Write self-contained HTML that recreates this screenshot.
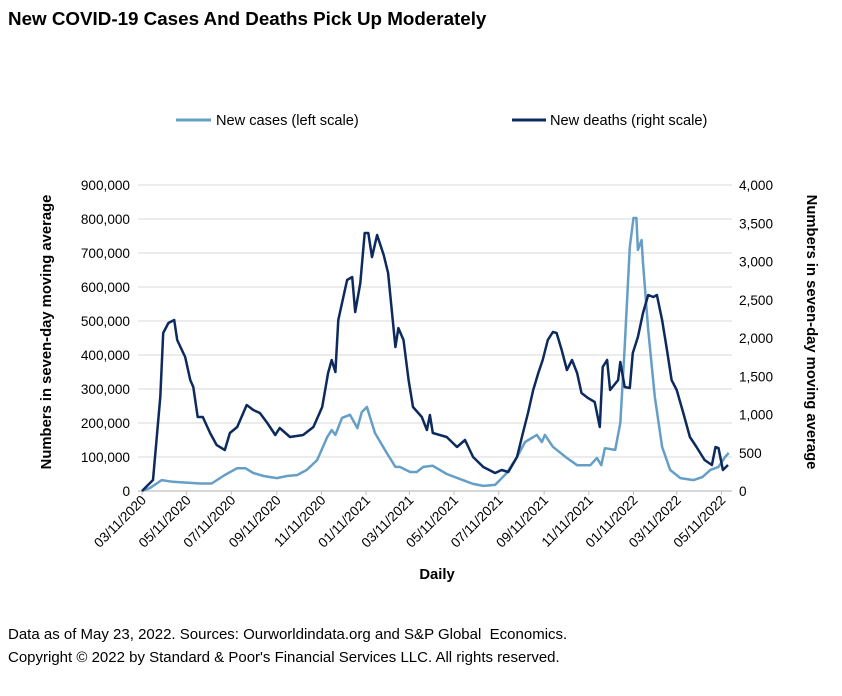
<!DOCTYPE html>
<html><head><meta charset="utf-8"><style>
body{margin:0;background:#fff;font-family:"Liberation Sans",Arial,sans-serif;}
#wrap{position:relative;width:842px;height:696px;overflow:hidden;}
.t{position:absolute;white-space:nowrap;color:#000;}
</style></head><body>
<div id="wrap">
<div class="t" style="left:8px;top:8px;font-size:18.8px;font-weight:bold;">New COVID-19 Cases And Deaths Pick Up Moderately</div>
<div class="t" style="left:8px;top:626px;font-size:15px;">Data as of May 23, 2022. Sources: Ourworldindata.org and S&amp;P Global&nbsp; Economics.</div>
<div class="t" style="left:8px;top:649px;font-size:15px;">Copyright © 2022 by Standard &amp; Poor's Financial Services LLC. All rights reserved.</div>
<svg id="chart" width="842" height="696" style="position:absolute;left:0;top:0"></svg>
</div>
<script>
const caseDays=[0,11,27,42,63,79,95,113,130,141,152,166,184,198,212,225,239,253,259,264,273,284,294,300,307,318,334,346,352,366,375,384,397,416,438,452,466,482,498,512,523,539,546,550,561,580,594,612,621,627,632,646,653,659,666,671,675,677,682,684,691,700,710,721,735,753,765,776,787,796,801];
const caseVals=[0,9000,32000,27000,24000,22000,22000,47000,67000,67000,53000,44000,38000,44000,47000,62000,91000,159000,179000,165000,215000,224000,185000,232000,247000,171000,112000,71000,71000,56000,56000,71000,74000,50000,32000,21000,15000,18000,53000,100000,144000,165000,144000,165000,130000,97000,76000,76000,97000,76000,126000,121000,200000,424000,718000,803000,803000,709000,738000,671000,474000,277000,130000,62000,38000,32000,41000,62000,71000,100000,112000];
const deathDays=[0,15,25,29,36,44,48,59,66,70,76,83,93,102,113,120,130,143,152,161,171,182,188,202,220,234,246,254,259,264,268,280,287,291,298,304,309,314,321,330,336,346,350,357,364,370,382,389,393,397,416,430,441,452,466,482,491,500,512,520,527,534,541,547,554,561,566,573,580,587,594,600,609,618,625,629,635,639,650,653,659,666,670,677,684,691,698,703,710,716,723,730,739,748,757,768,778,783,787,793,800];
const deathVals=[0,144,1230,2065,2196,2235,1974,1750,1450,1360,967,967,758,600,536,758,837,1124,1059,1020,889,732,824,706,732,837,1098,1542,1712,1555,2235,2758,2797,2340,2718,3372,3372,3058,3346,3085,2850,1882,2130,1974,1450,1098,967,797,993,758,706,575,667,444,314,235,275,249,444,758,1020,1320,1542,1712,1974,2078,2065,1843,1582,1712,1542,1281,1215,1163,837,1621,1712,1320,1450,1686,1359,1346,1804,2013,2327,2562,2536,2562,2235,1882,1450,1320,1020,706,575,405,340,575,562,275,340];
const leftTicks=[0,100000,200000,300000,400000,500000,600000,700000,800000,900000];
const rightTicks=[0,500,1000,1500,2000,2500,3000,3500,4000];
const xTickDays=[0,61,122,184,245,306,365,426,487,549,610,671,730,791];
const xTickLabels=["03/11/2020","05/11/2020","07/11/2020","09/11/2020","11/11/2020","01/11/2021","03/11/2021","05/11/2021","07/11/2021","09/11/2021","11/11/2021","01/11/2022","03/11/2022","05/11/2022"];

const X0=142,XR=0.7325,YB=491,YT=185;
const xs=d=>X0+d*XR;
const yl=v=>YB-(v/900000)*(YB-YT);
const yr=v=>YB-(v/4000)*(YB-YT);
const svg=document.getElementById('chart');
const NS='http://www.w3.org/2000/svg';
function mk(tag,attrs){const e=document.createElementNS(NS,tag);for(const k in attrs)e.setAttribute(k,attrs[k]);svg.appendChild(e);return e;}
function txt(x,y,s,attrs){const e=mk('text',Object.assign({x:x,y:y,'font-family':'Liberation Sans, Arial, sans-serif','font-size':13.6,fill:'#000'},attrs));e.textContent=s;return e;}

leftTicks.forEach((v,i)=>{
  if(v>0){const g=mk('line',{x1:138,x2:732,y1:yl(v),y2:yl(v),stroke:'#d9d9d9','stroke-width':1});
  
  }
  const t=txt(130,yl(v)+5,v.toLocaleString('en-US'),{'text-anchor':'end'});
  
  
});
rightTicks.forEach(v=>{
  const t=txt(739,yr(v)+5,v.toLocaleString('en-US'),{});
  
  
});
const ax=mk('line',{x1:138,x2:732,y1:YB,y2:YB,stroke:'#bfbfbf','stroke-width':1.2});


xTickDays.forEach((d,i)=>{
  const tk=mk('line',{x1:xs(d),x2:xs(d),y1:YB,y2:YB+4,stroke:'#bfbfbf','stroke-width':1});
  
  
  const t=txt(0,0,xTickLabels[i],{'text-anchor':'end',transform:`translate(${xs(d)+5},${YB+10}) rotate(-45)`});
  
  
});
function path(days,vals,sc){return days.map((d,i)=>(i?'L':'M')+xs(d).toFixed(1)+','+sc(vals[i]).toFixed(1)).join('');}
const pc=mk('path',{d:path(caseDays,caseVals,yl),fill:'none',stroke:'#659ec7','stroke-width':2.5,'stroke-linejoin':'round'});


const pd=mk('path',{d:path(deathDays,deathVals,yr),fill:'none',stroke:'#0c2a5e','stroke-width':2.5,'stroke-linejoin':'round'});



const l1=mk('line',{x1:176,x2:211,y1:120,y2:120,stroke:'#659ec7','stroke-width':3});


const lt1=txt(216,125,'New cases (left scale)',{'font-size':14.6});


const l2=mk('line',{x1:512,x2:546,y1:120,y2:120,stroke:'#0c2a5e','stroke-width':3});


const lt2=txt(550,125,'New deaths (right scale)',{'font-size':14.6});



const yt=txt(0,0,'Numbers in seven-day moving average',{'text-anchor':'middle','font-weight':'bold','font-size':14.8,transform:'translate(51,332) rotate(-90)'});


const yt2=txt(0,0,'Numbers in seven-day moving average',{'text-anchor':'middle','font-weight':'bold','font-size':14.8,transform:'translate(807,332) rotate(90)'});


const xt=txt(437,579,'Daily',{'text-anchor':'middle','font-weight':'bold','font-size':14.8});


</script>
</body></html>
